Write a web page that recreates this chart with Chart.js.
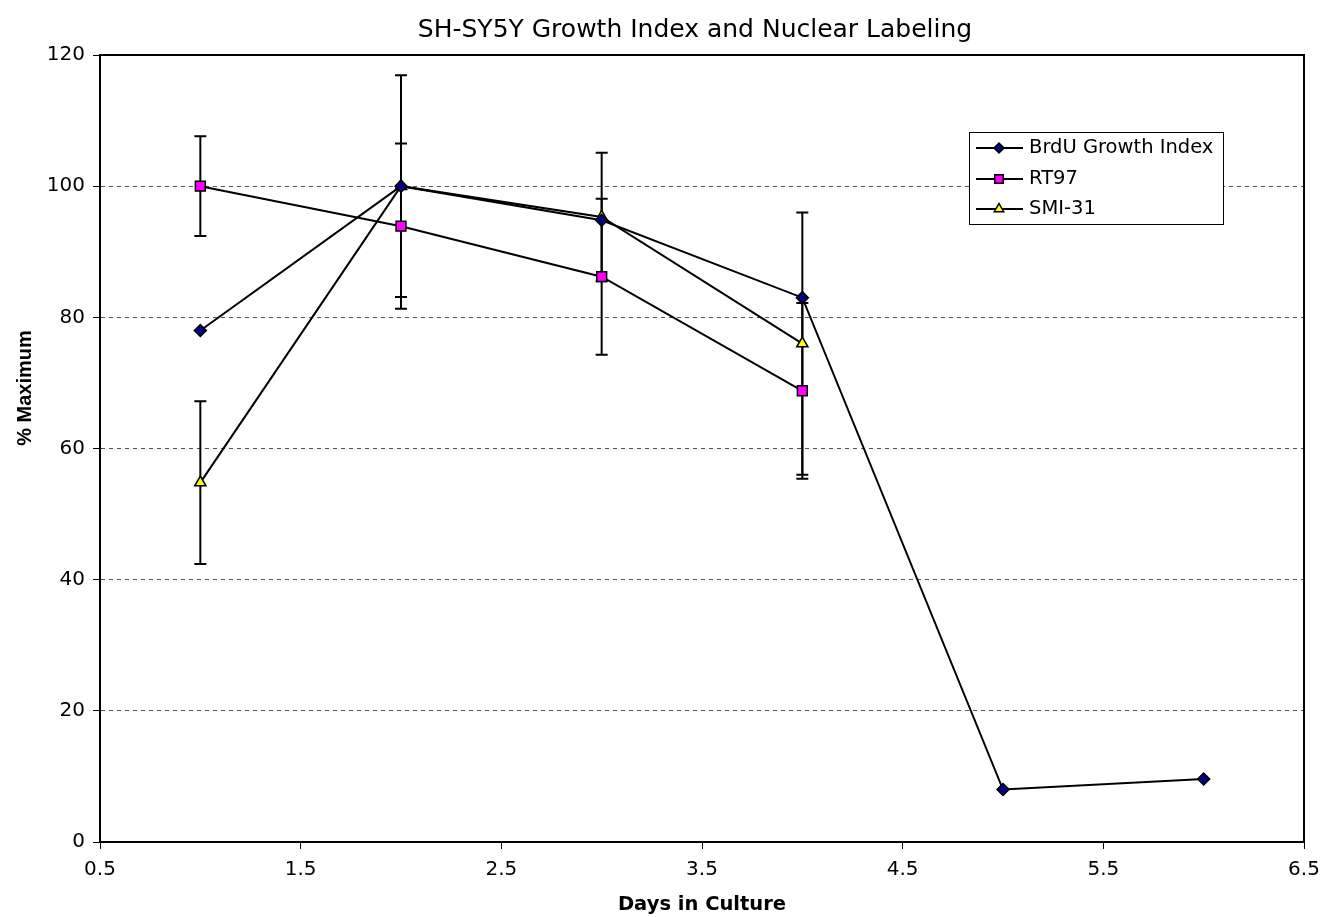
<!DOCTYPE html>
<html>
<head>
<meta charset="utf-8">
<title>SH-SY5Y Growth Index and Nuclear Labeling</title>
<script src="https://cdn.jsdelivr.net/npm/chart.js@4.4.1/dist/chart.umd.min.js"></script>
<style>
  html, body { margin: 0; padding: 0; background: #fff; }
  #wrap { width: 1324px; height: 917px; }
</style>
</head>
<body>
<div id="wrap"><canvas id="growthChart" width="1324" height="917"></canvas></div>
<script>
// values
const days = [1, 2, 3, 4, 5, 6];
const brduIndex = [78.0, 100.0, 94.8, 83.0, 8.0, 9.6];
const rt97 = [100.0, 93.9, 86.2, 68.8];
const rt97Err = [7.6, 12.6, 11.9, 13.4];
const smi31 = [54.8, 100.0, 95.3, 76.0];
const smi31Err = [12.4, 16.9, 9.8, 20.0];
const xTicks = [0.5, 1.5, 2.5, 3.5, 4.5, 5.5, 6.5];
const yTicks = [0, 20, 40, 60, 80, 100, 120];

const chartTitle = 'SH-SY5Y Growth Index and Nuclear Labeling';
const FONT = '"DejaVu Sans", Verdana, sans-serif';

function toPoints(values) {
  return values.map((v, i) => ({ x: days[i], y: v }));
}

const datasets = [
  {
    label: 'BrdU Growth Index',
    data: toPoints(brduIndex),
    borderColor: '#000', borderWidth: 2,
    pointStyle: 'rectRot', pointRadius: 6,
    pointBackgroundColor: '#000080', pointBorderColor: '#000', pointBorderWidth: 1.5
  },
  {
    label: 'RT97',
    data: toPoints(rt97),
    errors: rt97Err,
    borderColor: '#000', borderWidth: 2,
    pointStyle: 'rect', pointRadius: 7,
    pointBackgroundColor: '#ff00ff', pointBorderColor: '#000', pointBorderWidth: 1.5
  },
  {
    label: 'SMI-31',
    data: toPoints(smi31),
    errors: smi31Err,
    borderColor: '#000', borderWidth: 2,
    pointStyle: 'triangle', pointRadius: 6.5,
    pointBackgroundColor: '#ffff00', pointBorderColor: '#000', pointBorderWidth: 1.5
  }
];

// vertical error bars with caps, under the markers
const errorBars = {
  id: 'errorBars',
  beforeDatasetsDraw(chart) {
    const ctx = chart.ctx;
    const xs = chart.scales.x, ys = chart.scales.y;
    ctx.save();
    ctx.strokeStyle = '#000';
    ctx.lineWidth = 2;
    chart.data.datasets.forEach(ds => {
      if (!ds.errors) return;
      ds.data.forEach((p, i) => {
        const e = ds.errors[i];
        const px = xs.getPixelForValue(p.x);
        const top = ys.getPixelForValue(p.y + e);
        const bot = ys.getPixelForValue(p.y - e);
        ctx.beginPath();
        ctx.moveTo(px, top); ctx.lineTo(px, bot);
        ctx.moveTo(px - 6, top); ctx.lineTo(px + 6, top);
        ctx.moveTo(px - 6, bot); ctx.lineTo(px + 6, bot);
        ctx.stroke();
      });
    });
    ctx.restore();
  }
};

function drawMarker(ctx, style, r, x, y) {
  if (style === 'rect') {
    const s = r * Math.SQRT1_2;
    ctx.rect(x - s, y - s, 2 * s, 2 * s);
  } else if (style === 'rectRot') {
    ctx.moveTo(x, y - r); ctx.lineTo(x + r, y); ctx.lineTo(x, y + r); ctx.lineTo(x - r, y);
    ctx.closePath();
  } else {
    ctx.moveTo(x, y - r); ctx.lineTo(x + r * 0.866, y + r / 2); ctx.lineTo(x - r * 0.866, y + r / 2);
    ctx.closePath();
  }
}

// plot frame, titles and the boxed legend
const frame = {
  id: 'frame',
  beforeDatasetsDraw(chart) {
    const { ctx, chartArea: a } = chart;
    ctx.save();
    ctx.strokeStyle = '#000';
    ctx.lineWidth = 2;
    ctx.strokeRect(a.left, a.top, a.right - a.left, a.bottom - a.top);
    ctx.restore();
  },
  afterDraw(chart) {
    const ctx = chart.ctx;
    ctx.save();
    ctx.fillStyle = '#000';
    ctx.textAlign = 'center';
    ctx.textBaseline = 'middle';
    ctx.font = '25px ' + FONT;
    ctx.fillText(chartTitle, 695, 30);
    ctx.font = 'bold 20px "Liberation Sans", Arial, sans-serif';
    ctx.translate(25, 388);
    ctx.rotate(-Math.PI / 2);
    ctx.fillText('% Maximum', 0, 0);
    ctx.restore();

    const bx = 969, by = 132, bw = 254, bh = 92;
    ctx.save();
    ctx.fillStyle = '#fff';
    ctx.fillRect(bx, by, bw, bh);
    ctx.strokeStyle = '#000';
    ctx.lineWidth = 1;
    ctx.strokeRect(bx + 0.5, by + 0.5, bw, bh);
    const rows = [148, 179, 209];
    chart.data.datasets.forEach((ds, i) => {
      const y = rows[i];
      ctx.strokeStyle = '#000';
      ctx.lineWidth = 2;
      ctx.beginPath();
      ctx.moveTo(976, y); ctx.lineTo(1023, y);
      ctx.stroke();
      ctx.fillStyle = ds.pointBackgroundColor;
      ctx.strokeStyle = ds.pointBorderColor;
      ctx.lineWidth = ds.pointBorderWidth;
      ctx.beginPath();
      drawMarker(ctx, ds.pointStyle, ds.pointRadius - 1, 999, y);
      ctx.fill();
      ctx.stroke();
      ctx.fillStyle = '#000';
      ctx.font = '19.5px ' + FONT;
      ctx.textAlign = 'left';
      ctx.textBaseline = 'middle';
      ctx.fillText(ds.label, 1029, y);
    });
    ctx.restore();
  }
};

new Chart(document.getElementById('growthChart'), {
  type: 'line',
  data: { datasets: datasets },
  options: {
    responsive: false,
    devicePixelRatio: 1,
    animation: false,
    layout: { padding: { left: 0, right: 20, top: 55, bottom: 0 } },
    plugins: {
      legend: { display: false },
      tooltip: { enabled: false },
      title: { display: false }
    },
    scales: {
      x: {
        type: 'linear',
        min: 0.5, max: 6.5,
        afterBuildTicks: s => { s.ticks = xTicks.map(v => ({ value: v })); },
        afterFit: s => { s.height = 75; s.paddingLeft = 0; s.paddingRight = 0; },
        grid: { drawOnChartArea: false, drawTicks: true, tickLength: 7, tickColor: '#000', tickWidth: 1 },
        border: { color: '#000', width: 2 },
        ticks: { color: '#000', font: { family: FONT, size: 20 }, padding: 9, maxRotation: 0, callback: v => String(v) },
        title: { display: true, text: 'Days in Culture', color: '#000', font: { family: FONT, size: 19.5, weight: 'bold' }, padding: { top: 2, bottom: 0 } }
      },
      y: {
        min: 0, max: 120,
        afterBuildTicks: s => { s.ticks = yTicks.map(v => ({ value: v })); },
        afterFit: s => { s.width = 100; },
        grid: { color: '#555', lineWidth: 1, drawTicks: true, tickLength: 7, tickColor: '#000', tickWidth: 1 },
        border: { color: '#000', width: 2, dash: [4, 4] },
        ticks: { color: '#000', font: { family: FONT, size: 20 }, padding: 8, callback: v => String(v) }
      }
    }
  },
  plugins: [errorBars, frame]
});
</script>
</body>
</html>
